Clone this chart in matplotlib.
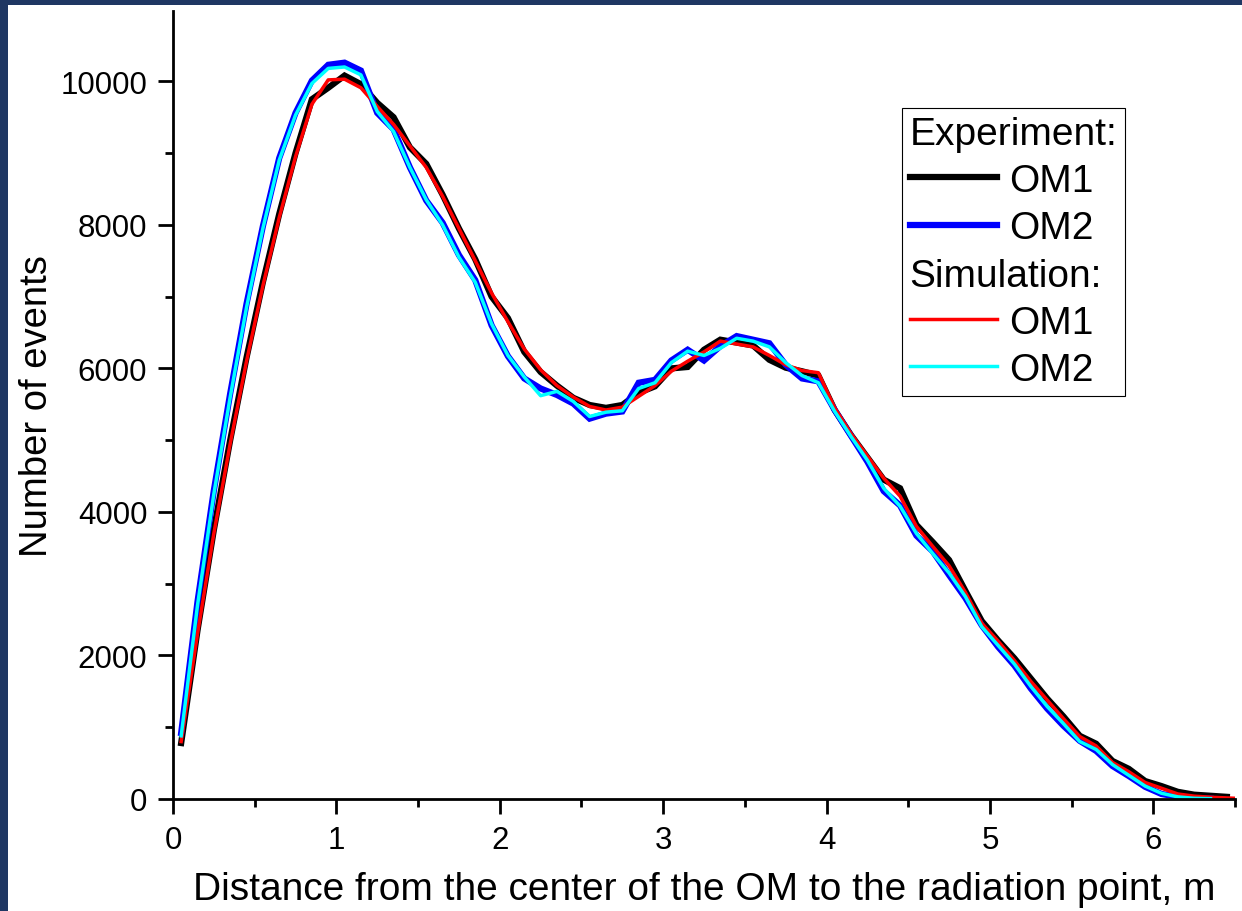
import numpy as np
import matplotlib
matplotlib.use("Agg")
import matplotlib.pyplot as plt
from matplotlib.lines import Line2D
from matplotlib.patches import Rectangle

plt.rcParams['font.family'] = ['Liberation Sans', 'DejaVu Sans']

# Donnees (pas de 0.1 m)
distance = [0.05, 0.15, 0.25, 0.35, 0.45, 0.55, 0.65, 0.75, 0.85, 0.95,
            1.05, 1.15, 1.25, 1.35, 1.45, 1.55, 1.65, 1.75, 1.85, 1.95,
            2.05, 2.15, 2.25, 2.35, 2.45, 2.55, 2.65, 2.75, 2.85, 2.95,
            3.05, 3.15, 3.25, 3.35, 3.45, 3.55, 3.65, 3.75, 3.85, 3.95,
            4.05, 4.15, 4.25, 4.35, 4.45, 4.55, 4.65, 4.75, 4.85, 4.95,
            5.05, 5.15, 5.25, 5.35, 5.45, 5.55, 5.65, 5.75, 5.85, 5.95,
            6.05, 6.15, 6.25, 6.35, 6.45]
distance_sim1 = distance + [6.55]
distance_om2 = distance[:-1]

exp_om1 = [780, 2350, 3750, 5000, 6150, 7200, 8150, 9000, 9750, 9910,
           10080, 9960, 9700, 9500, 9080, 8850, 8420, 7950, 7520, 7000,
           6700, 6230, 5950, 5760, 5590, 5490, 5450, 5490, 5660, 5750,
           6000, 6020, 6260, 6400, 6360, 6320, 6120, 6010, 5960, 5900,
           5420, 5070, 4760, 4450, 4330, 3820, 3580, 3330, 2900, 2480,
           2210, 1960, 1680, 1400, 1150, 880, 770, 530, 420, 250,
           180, 100, 60, 45, 30]

exp_om2 = [920, 2750, 4300, 5650, 6900, 7980, 8930, 9560, 10010, 10230,
           10260, 10150, 9560, 9330, 8800, 8340, 8030, 7580, 7230, 6600,
           6170, 5860, 5720, 5630, 5510, 5300, 5370, 5400, 5800, 5840,
           6110, 6260, 6110, 6310, 6450, 6400, 6350, 6050, 5860, 5820,
           5420, 5060, 4700, 4290, 4090, 3670, 3450, 3120, 2800, 2420,
           2120, 1860, 1540, 1260, 1020, 810, 670, 460, 320, 170,
           70, 30, 10, 5]

sim_om1 = [800, 2300, 3700, 4950, 6100, 7150, 8100, 8950, 9680, 10020,
           10030, 9910, 9650, 9400, 9100, 8800, 8400, 7950, 7500, 7050,
           6650, 6270, 5980, 5760, 5600, 5470, 5420, 5460, 5610, 5760,
           5960, 6100, 6230, 6380, 6340, 6300, 6180, 6050, 5970, 5940,
           5450, 5090, 4780, 4470, 4220, 3800, 3520, 3250, 2880, 2450,
           2200, 1930, 1640, 1380, 1120, 870, 740, 510, 380, 230,
           150, 70, 40, 25, 15, 5]

sim_om2 = [880, 2700, 4250, 5600, 6850, 7950, 8900, 9530, 9970, 10180,
           10200, 10090, 9580, 9300, 8800, 8350, 8000, 7550, 7200, 6620,
           6180, 5880, 5620, 5680, 5540, 5330, 5390, 5410, 5720, 5800,
           6080, 6240, 6180, 6280, 6420, 6380, 6300, 6080, 5900, 5800,
           5400, 5050, 4720, 4330, 4080, 3700, 3420, 3150, 2820, 2400,
           2140, 1880, 1570, 1290, 1050, 800, 690, 480, 330, 180,
           80, 30, 10, 5]

fig = plt.figure(figsize=(12.42, 9.12), dpi=100)
fig.patch.set_facecolor('#1f3763')
# fond blanc (bordure bleue en haut et a gauche)
fond = Rectangle((8/1242, 0), 1, 906/912, transform=fig.transFigure,
                 facecolor='white', edgecolor='none', zorder=-10)
fig.add_artist(fond)

ax = fig.add_axes([173/1242, 112/912, 1062/1242, 788/912])
ax.set_facecolor('white')
ax.set_zorder(1)

l1, = ax.plot(distance, exp_om1, color='black', lw=4.5, solid_joinstyle='miter')
l2, = ax.plot(distance_om2, exp_om2, color='#0000ff', lw=4.5, solid_joinstyle='miter')
l3, = ax.plot(distance_sim1, sim_om1, color='#ff0000', lw=2.5)
l4, = ax.plot(distance_om2, sim_om2, color='#00ffff', lw=2.5)

ax.set_xlim(0, 6.5)
ax.set_ylim(0, 10980)

ax.spines['top'].set_visible(False)
ax.spines['right'].set_visible(False)
ax.spines['left'].set_linewidth(2)
ax.spines['bottom'].set_linewidth(2)

ax.set_xticks([0, 1, 2, 3, 4, 5, 6])
ax.set_xticks(np.arange(0.5, 6.6, 1.0), minor=True)
ax.set_yticks([0, 2000, 4000, 6000, 8000, 10000])
ax.set_yticks([1000, 3000, 5000, 7000, 9000], minor=True)
ax.tick_params(which='major', length=10.5, width=2, labelsize=22.5, pad=8)
ax.tick_params(which='minor', length=5.5, width=2)

ax.set_xlabel("Distance from the center of the OM to the radiation point, m", fontsize=28, labelpad=12)
ax.set_ylabel("Number of events", fontsize=27.5, labelpad=4)

# legende avec deux lignes de titre
blank = Line2D([], [], color='none')
handles = [blank, l1, l2, blank, l3, l4]
labels = ['Experiment:', 'OM1', 'OM2', 'Simulation:', 'OM1', 'OM2']
leg = ax.legend(handles, labels, loc='upper left', bbox_to_anchor=(0.6864, 0.877),
                fontsize=28, frameon=True, fancybox=False, framealpha=1,
                edgecolor='black', handlelength=2.25, handletextpad=0.3,
                labelspacing=0.29, borderpad=0.2, borderaxespad=0)
leg.get_frame().set_linewidth(0.8)
for col in leg._legend_handle_box.get_children():
    rows = col.get_children()
    for i in [0, 3]:
        rows[i].get_children()[0].width = 0
        rows[i].sep = 0

plt.savefig("out.png", dpi=100, facecolor=fig.get_facecolor())
